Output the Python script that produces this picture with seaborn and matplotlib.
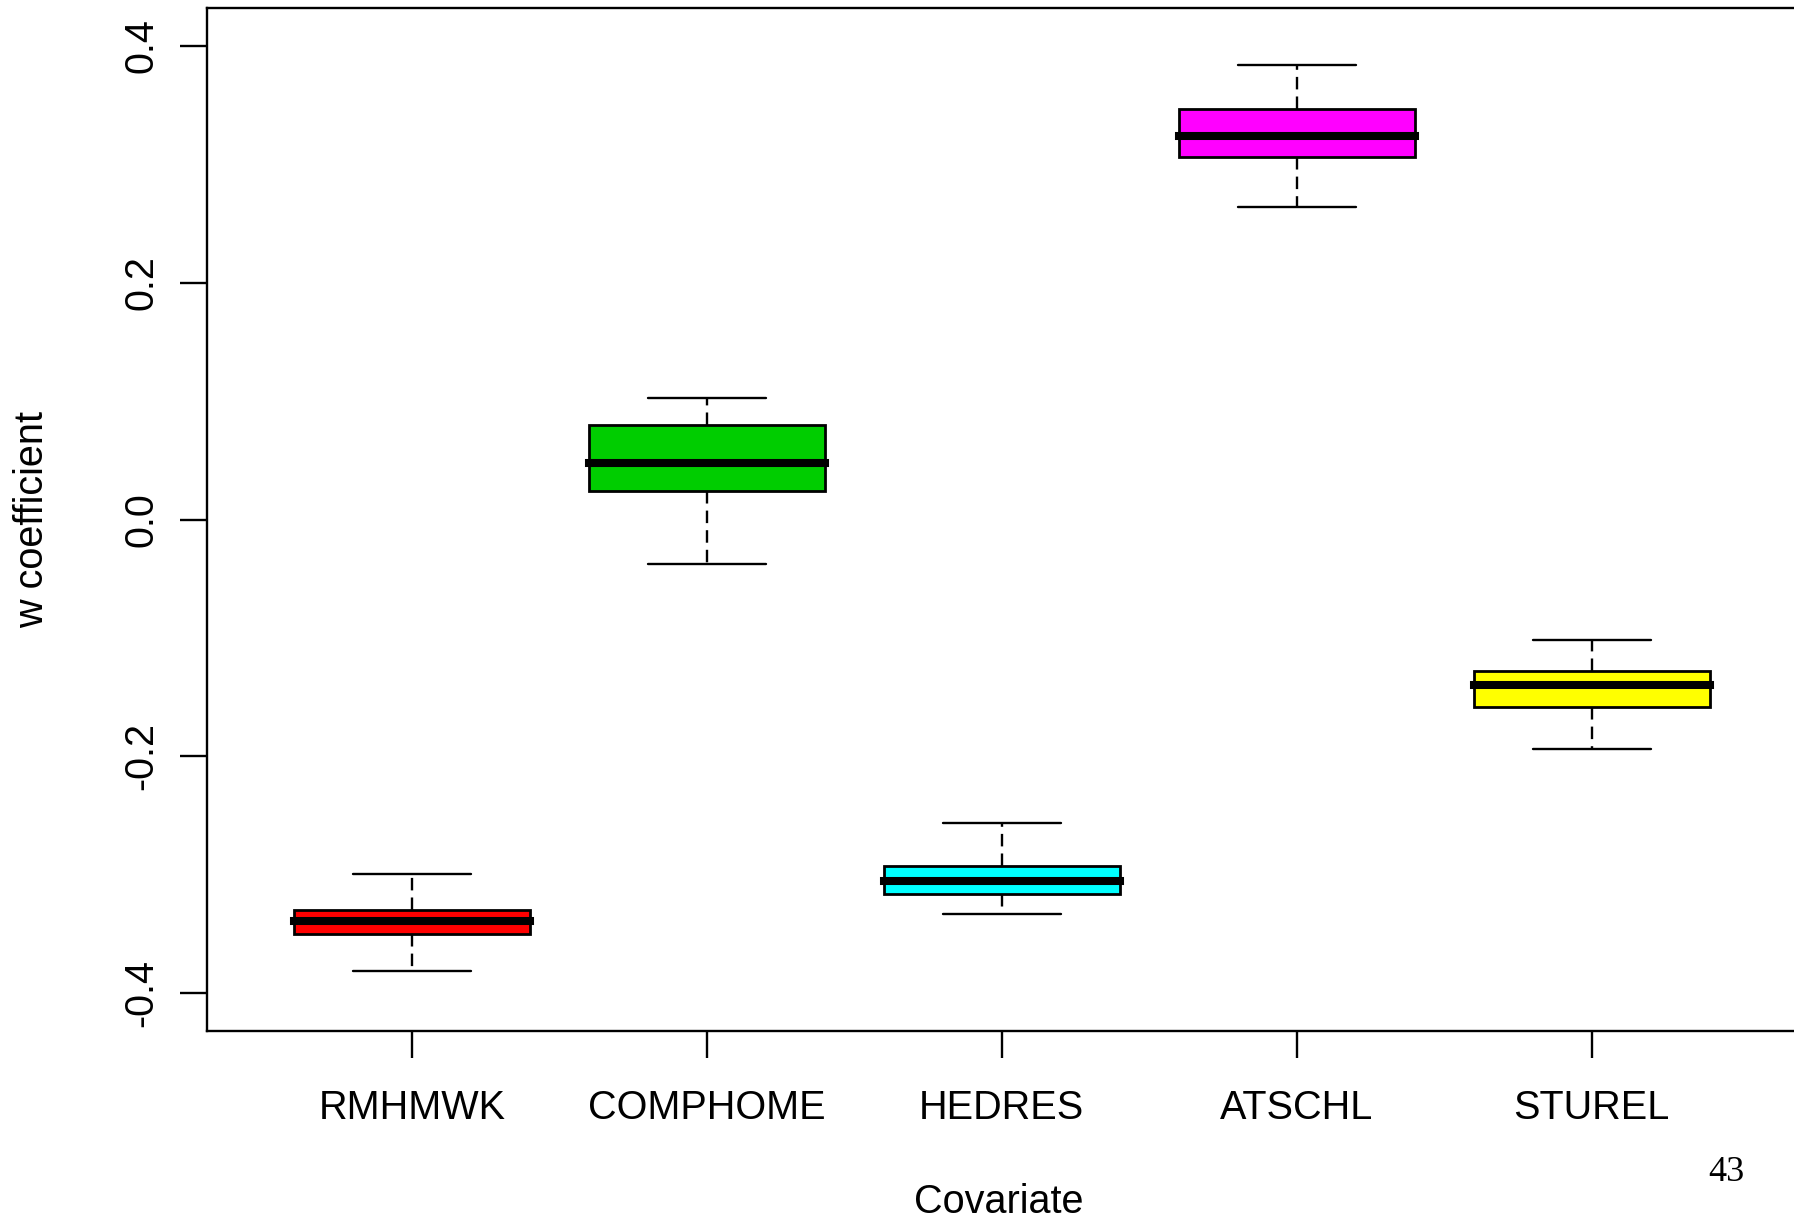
import numpy as np
import pandas as pd
import matplotlib
matplotlib.use("Agg")
import matplotlib.pyplot as plt
import seaborn as sns

# ---- data (five-number summaries) ----
covariates = ["RMHMWK", "COMPHOME", "HEDRES", "ATSCHL", "STUREL"]
whisker_low = [-0.381, -0.038, -0.333, 0.264, -0.194]
q1 = [-0.350, 0.024, -0.316, 0.306, -0.158]
median = [-0.339, 0.048, -0.305, 0.324, -0.140]
q3 = [-0.330, 0.080, -0.293, 0.347, -0.128]
whisker_high = [-0.299, 0.103, -0.256, 0.384, -0.102]
box_colors = ["#FF0000", "#00CD00", "#00FFFF", "#FF00FF", "#FFFF00"]
y_ticks = [-0.4, -0.2, 0.0, 0.2, 0.4]
y_tick_labels = ["-0.4", "-0.2", "0.0", "0.2", "0.4"]
x_label = "Covariate"
y_label = "w coefficient"
page_number = "43"

rows = []
for i, c in enumerate(covariates):
    for v in (whisker_low[i], q1[i], median[i], q3[i], whisker_high[i]):
        rows.append({"covariate": c, "value": v})
df = pd.DataFrame(rows)

sns.set_style("white")
plt.rcParams["font.family"] = ["Liberation Sans", "DejaVu Sans"]

W, H = 1794, 1219
fig = plt.figure(figsize=(W / 100, H / 100), dpi=100)
left_px, right_px, top_px, bottom_px = 207, 1796.5, 8, 1031
ax = fig.add_axes([left_px / W, 1 - bottom_px / H,
                   (right_px - left_px) / W, (bottom_px - top_px) / H])

line_w = 1.7
sns.boxplot(data=df, x="covariate", y="value", hue="covariate",
            order=covariates, hue_order=covariates, palette=box_colors,
            saturation=1, legend=False, whis=(0, 100), width=0.8,
            linecolor="black", linewidth=2.0, fliersize=0, ax=ax,
            boxprops=dict(linewidth=2.0, edgecolor="black"),
            medianprops=dict(linewidth=5.8, color="black",
                             solid_capstyle="projecting"),
            whiskerprops=dict(linewidth=line_w, color="black",
                              linestyle=(0, (5.3, 3.0))),
            capprops=dict(linewidth=line_w, color="black"))

ax.set_xlim(-0.695, 4.695)
ax.set_ylim(-0.432, 0.432)
ax.set_yticks(y_ticks)
ax.set_yticklabels(y_tick_labels, rotation=90, va="center")
ax.set_xlabel("")
ax.set_ylabel("")

for s in ax.spines.values():
    s.set_visible(True)
    s.set_color("black")
    s.set_linewidth(line_w)

ax.tick_params(axis="both", direction="out", length=19.5, width=line_w,
               color="black", labelsize=28.5, labelcolor="black")
ax.tick_params(axis="x", pad=22.5)
ax.tick_params(axis="y", pad=14)
ax.tick_params(bottom=True, left=True, top=False, right=False)

fig.text(32 / W, 1 - 519 / H, y_label, rotation=90, ha="center",
         va="center", fontsize=28.5, color="black")
fig.text(999 / W, 1 - 1213 / H, x_label, ha="center", va="baseline",
         fontsize=28.5, color="black")
fig.text(1726 / W, 1 - 1181 / H, page_number, ha="center", va="baseline",
         fontsize=26, color="black",
         family=["Liberation Serif", "DejaVu Serif"])

fig.savefig("out.png", dpi=100, facecolor="white")
